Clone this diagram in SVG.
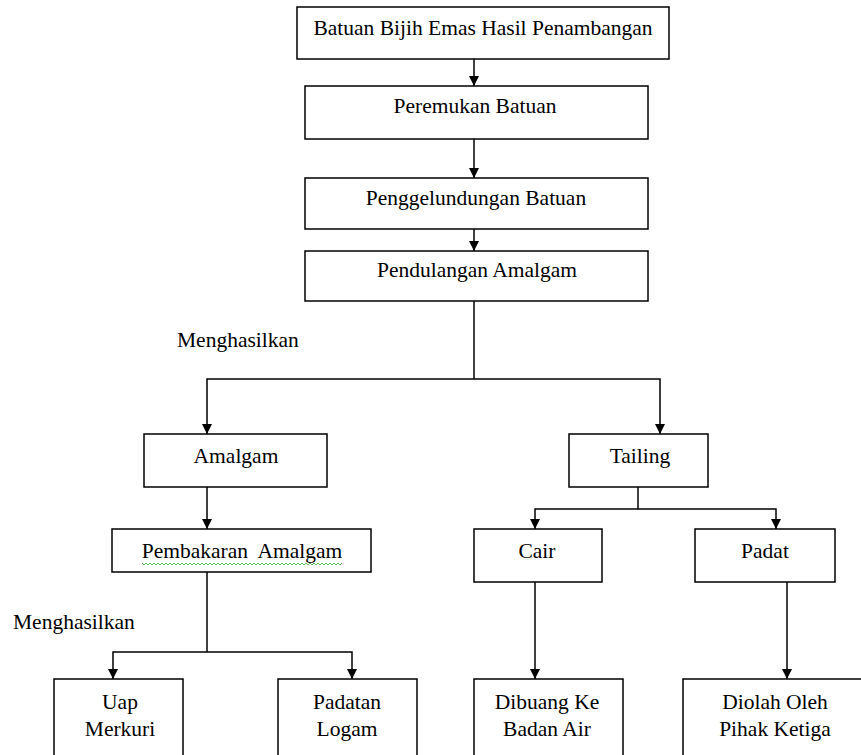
<svg xmlns="http://www.w3.org/2000/svg" width="861" height="755" viewBox="0 0 861 755">
<defs>
<marker id="ah" markerUnits="userSpaceOnUse" markerWidth="10" markerHeight="10" refX="10" refY="5" orient="auto">
<path d="M0,0 L10,5 L0,10 z" fill="#000"/>
</marker>
<style>
rect{fill:#fff;stroke:#000;stroke-width:1.5}
text{font-family:'Liberation Serif','Times New Roman',serif;font-size:21.5px;fill:#000;text-anchor:middle}
.l{text-anchor:start}
.c{fill:none;stroke:#000;stroke-width:1.5}
.a{marker-end:url(#ah)}
</style>
</defs>
<rect x="0" y="0" width="861" height="755" style="fill:#fff;stroke:none"/>
<g id="connectors">
<line class="c a" x1="474" y1="59" x2="474" y2="86"/>
<line class="c a" x1="474" y1="139" x2="474" y2="178"/>
<line class="c a" x1="474" y1="229" x2="474" y2="251"/>
<polyline class="c" points="474,301 474,379"/>
<polyline class="c a" points="474,379 207,379 207,434"/>
<polyline class="c a" points="474,379 660,379 660,434"/>
<line class="c a" x1="207" y1="487" x2="207" y2="529"/>
<polyline class="c" points="207,572 207,652"/>
<polyline class="c a" points="207,652 113,652 113,679"/>
<polyline class="c a" points="207,652 352,652 352,679"/>
<polyline class="c" points="638,487 638,509"/>
<polyline class="c a" points="638,509 535,509 535,529"/>
<polyline class="c a" points="638,509 776,509 776,529"/>
<line class="c a" x1="535" y1="582" x2="535" y2="679"/>
<line class="c a" x1="787" y1="582" x2="787" y2="679"/>
</g>
<g id="n1"><rect x="297" y="7" width="372" height="52"/><text x="483" y="35">Batuan Bijih Emas Hasil Penambangan</text></g>
<g id="n2"><rect x="305" y="86" width="343" height="53"/><text x="475" y="113">Peremukan Batuan</text></g>
<g id="n3"><rect x="305" y="178" width="343" height="51"/><text x="476" y="205">Penggelundungan Batuan</text></g>
<g id="n4"><rect x="305" y="251" width="343" height="50"/><text x="477" y="277">Pendulangan Amalgam</text></g>
<g id="lbl1"><text class="l" x="177" y="347">Menghasilkan</text></g>
<g id="n5"><rect x="144" y="434" width="183" height="53"/><text x="236" y="463">Amalgam</text></g>
<g id="n6"><rect x="112" y="529" width="259" height="43"/><text x="242" y="558" xml:space="preserve">Pembakaran  Amalgam</text>
<polyline points="142,563 144,565 146,563 148,565 150,563 152,565 154,563 156,565 158,563 160,565 162,563 164,565 166,563 168,565 170,563 172,565 174,563 176,565 178,563 180,565 182,563 184,565 186,563 188,565 190,563 192,565 194,563 196,565 198,563 200,565 202,563 204,565 206,563 208,565 210,563 212,565 214,563 216,565 218,563 220,565 222,563 224,565 226,563 228,565 230,563 232,565 234,563 236,565 238,563 240,565 242,563 244,565 246,563 248,565 250,563 252,565 254,563 256,565 258,563 260,565 262,563 264,565 266,563 268,565 270,563 272,565 274,563 276,565 278,563 280,565 282,563 284,565 286,563 288,565 290,563 292,565 294,563 296,565 298,563 300,565 302,563 304,565 306,563 308,565 310,563 312,565 314,563 316,565 318,563 320,565 322,563 324,565 326,563 328,565 330,563 332,565 334,563 336,565 338,563 340,565 342,563" fill="none" stroke="#3a3" stroke-width="0.8"/></g>
<g id="lbl2"><text class="l" x="13" y="629">Menghasilkan</text></g>
<g id="n7"><rect x="54" y="679" width="129" height="90"/><text x="120" y="709">Uap</text><text x="120" y="736">Merkuri</text></g>
<g id="n8"><rect x="278" y="679" width="139" height="90"/><text x="347" y="709">Padatan</text><text x="347" y="736">Logam</text></g>
<g id="n9"><rect x="569" y="434" width="139" height="53"/><text x="640" y="463">Tailing</text></g>
<g id="n10"><rect x="474" y="529" width="128" height="53"/><text x="537" y="558">Cair</text></g>
<g id="n11"><rect x="695" y="529" width="140" height="53"/><text x="765" y="558">Padat</text></g>
<g id="n12"><rect x="474" y="679" width="149" height="90"/><text x="547" y="709">Dibuang Ke</text><text x="547" y="736">Badan Air</text></g>
<g id="n13"><rect x="683" y="679" width="200" height="90"/><text x="775" y="709">Diolah Oleh</text><text x="775" y="736">Pihak Ketiga</text></g>
</svg>
